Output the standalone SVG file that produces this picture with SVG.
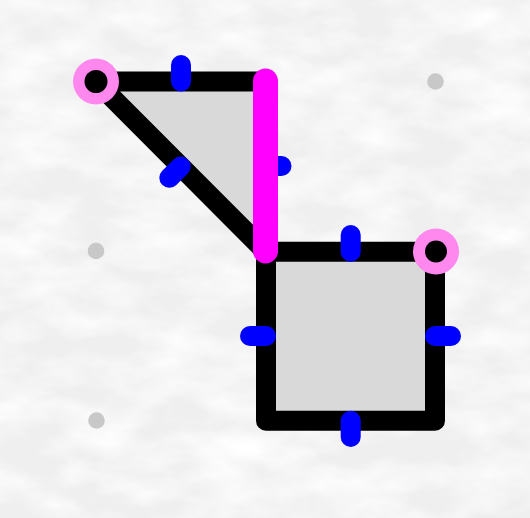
<svg xmlns="http://www.w3.org/2000/svg" width="530" height="518" viewBox="0 0 530 518">
  <defs>
    <filter id="paper" x="0" y="0" width="100%" height="100%">
      <feTurbulence type="fractalNoise" baseFrequency="0.015 0.03" numOctaves="4" seed="7" result="n"/>
      <feColorMatrix type="matrix" in="n" values="0 0 0 0 1  0 0 0 0 1  0 0 0 0 1  1.8 0 0 0 -0.6" result="c"/>
      <feComposite in="c" in2="SourceGraphic" operator="over"/>
    </filter>
    <style>
      .grid { fill: #c8c8c8; }
      .shape { fill: #d9d9d9; stroke: #000; stroke-width: 20; stroke-linejoin: round; }
      .tick { stroke: #0000ff; stroke-width: 20; stroke-linecap: round; fill: none; }
      .hl { stroke: #ff00ff; stroke-width: 25; stroke-linecap: round; fill: none; }
      .vtx-ring { fill: #ff88ee; }
      .vtx-core { fill: #000; }
    </style>
  </defs>
  <rect x="0" y="0" width="530" height="518" fill="#efefef" filter="url(#paper)"/>
  <g id="grid">
    <circle class="grid" cx="435.5" cy="81.5" r="8.3"/>
    <circle class="grid" cx="96" cy="251" r="8.3"/>
    <circle class="grid" cx="96.5" cy="420.5" r="8.3"/>
  </g>
  <g id="triangle">
    <polygon class="shape" points="96,81.5 265.5,81.5 265.5,251.5"/>
  </g>
  <g id="square">
    <rect class="shape" x="266" y="251.7" width="169" height="169"/>
  </g>
  <g id="connectors">
    <line class="tick" x1="181" y1="81.5" x2="181" y2="65"/>
    <line class="tick" x1="180.7" y1="166.5" x2="169.3" y2="177.8"/>
    <line class="tick" x1="265.5" y1="166" x2="281.5" y2="166"/>
    <line class="tick" x1="350.7" y1="251.7" x2="350.7" y2="235"/>
    <line class="tick" x1="266" y1="336" x2="250" y2="336"/>
    <line class="tick" x1="435" y1="336" x2="451" y2="336"/>
    <line class="tick" x1="350.7" y1="420.7" x2="350.7" y2="437"/>
    <line class="hl" x1="265.5" y1="81" x2="265.5" y2="251"/>
  </g>
  <g id="vertex-a">
    <circle class="vtx-ring" cx="96" cy="81.5" r="23"/>
    <circle class="vtx-core" cx="96" cy="81.5" r="11.5"/>
  </g>
  <g id="vertex-b">
    <circle class="vtx-ring" cx="436" cy="251.5" r="23"/>
    <circle class="vtx-core" cx="436" cy="251.5" r="11"/>
  </g>
</svg>
